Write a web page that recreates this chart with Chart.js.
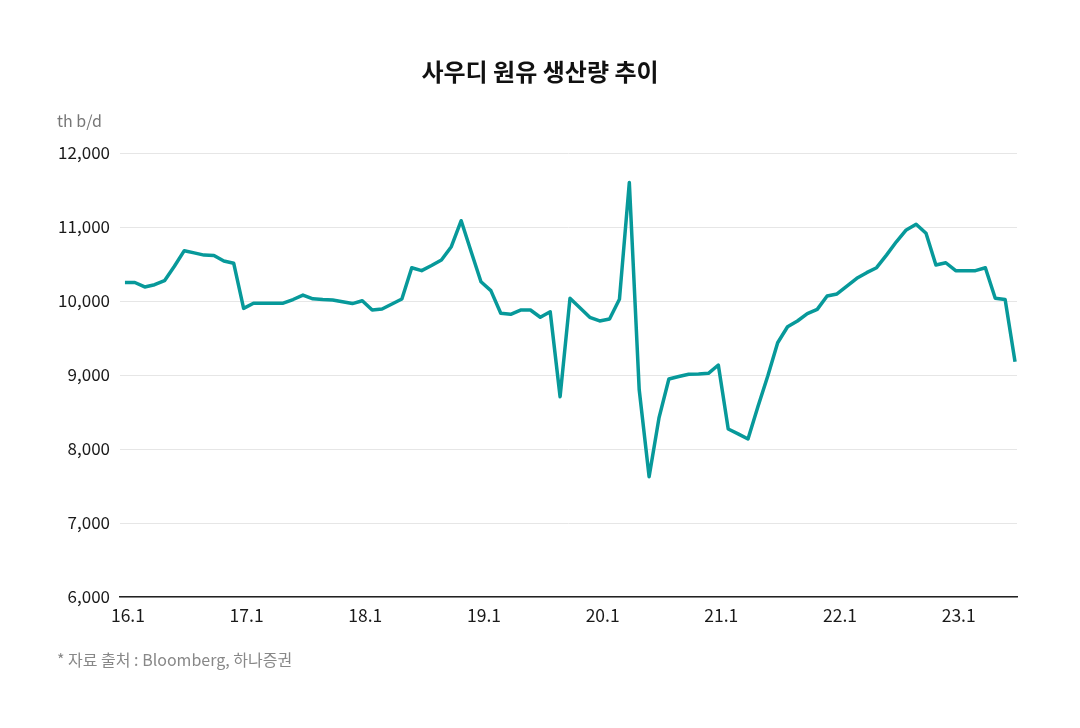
<!DOCTYPE html>
<html>
<head>
<meta charset="utf-8">
<script src="https://cdn.jsdelivr.net/npm/chart.js@4.4.1/dist/chart.umd.min.js"></script>
<style>
  html, body { margin: 0; padding: 0; background: #ffffff; }
  #wrap { width: 1080px; height: 728px; position: relative; }
</style>
</head>
<body>
<div id="wrap"><canvas id="c" width="1080" height="728"></canvas></div>
<script>
// Monthly Saudi crude production, th b/d, Jan 2016 .. Jul 2023
const production = [
  10250, 10250, 10190, 10220, 10275, 10470, 10680, 10650, 10620, 10615, 10540, 10510, // 2016
  9900, 9970, 9970, 9970, 9970, 10020, 10080, 10030, 10020, 10013, 9990, 9965,        // 2017
  10004, 9878, 9892, 9960, 10027, 10450, 10410, 10480, 10554, 10734, 11085, 10670,    // 2018
  10260, 10140, 9834, 9820, 9878, 9878, 9780, 9855, 8707, 10036, 9910, 9780,          // 2019
  9730, 9757, 10023, 11600, 8800, 7626, 8420, 8946, 8980, 9010, 9015, 9023,           // 2020
  9135, 8270, 8205, 8135, 8570, 8986, 9436, 9652, 9730, 9830, 9887, 10068,            // 2021
  10095, 10200, 10307, 10383, 10450, 10620, 10800, 10960, 11037, 10915, 10486, 10517, // 2022
  10410, 10410, 10410, 10450, 10036, 10020, 9180                                      // 2023
];
const tickMonths = [0, 12, 24, 36, 48, 60, 72, 84];
const tickLabels = ['16.1', '17.1', '18.1', '19.1', '20.1', '21.1', '22.1', '23.1'];
const yTicks = [6000, 7000, 8000, 9000, 10000, 11000, 12000];

const chartTitle = '사우디 원유 생산량 추이';
const unitText = 'th b/d';
const sourceText = '* 자료 출처 : Bloomberg, 하나증권';

const FONT = "'Noto Sans CJK KR', 'Noto Sans', sans-serif";

const textPlugin = {
  id: 'texts',
  afterDraw(chart) {
    const ctx = chart.ctx;
    ctx.save();
    ctx.textBaseline = 'middle';
    ctx.fillStyle = '#111111';
    ctx.font = "bold 24px " + FONT;
    ctx.textAlign = 'center';
    ctx.fillText(chartTitle, 540, 72);
    ctx.textAlign = 'left';
    ctx.fillStyle = '#777777';
    ctx.font = "16px " + FONT;
    ctx.fillText(unitText, 57, 121);
    ctx.fillStyle = '#888888';
    ctx.font = "16px " + FONT;
    ctx.fillText(sourceText, 57, 660);
    ctx.restore();
  }
};

new Chart(document.getElementById('c'), {
  type: 'line',
  data: {
    datasets: [{
      data: production.map((v, i) => ({ x: i, y: v })),
      borderColor: '#07999a',
      borderWidth: 3.5,
      borderJoinStyle: 'round',
      pointRadius: 0,
      tension: 0,
      fill: false
    }]
  },
  options: {
    responsive: false,
    animation: false,
    layout: { padding: { left: 57, right: 63, top: 153, bottom: 101 } },
    plugins: { legend: { display: false }, tooltip: { enabled: false }, title: { display: false } },
    scales: {
      x: {
        type: 'linear',
        min: -0.5,
        max: 90.2,
        afterBuildTicks(scale) { scale.ticks = tickMonths.map(v => ({ value: v })); },
        afterFit(scale) { scale.height = 30; },
        ticks: {
          autoSkip: false,
          maxRotation: 0,
          padding: 8,
          labelOffset: 3,
          color: '#1a1a1a',
          font: { family: FONT, size: 17.5 },
          callback(value) { const k = tickMonths.indexOf(value); return k >= 0 ? tickLabels[k] : ''; }
        },
        grid: { display: false, drawTicks: false },
        border: { display: true, color: '#222222', width: 1.5 }
      },
      y: {
        min: 6000,
        max: 12000,
        afterBuildTicks(scale) { scale.ticks = yTicks.map(v => ({ value: v })); },
        afterFit(scale) { scale.width = 63; },
        ticks: {
          padding: 10,
          color: '#1a1a1a',
          font: { family: FONT, size: 17 },
          callback(value) { return value.toLocaleString('en-US'); }
        },
        grid: { color: '#e6e6e6', lineWidth: 1, drawTicks: false },
        border: { display: false }
      }
    }
  },
  plugins: [textPlugin]
});
</script>
</body>
</html>
